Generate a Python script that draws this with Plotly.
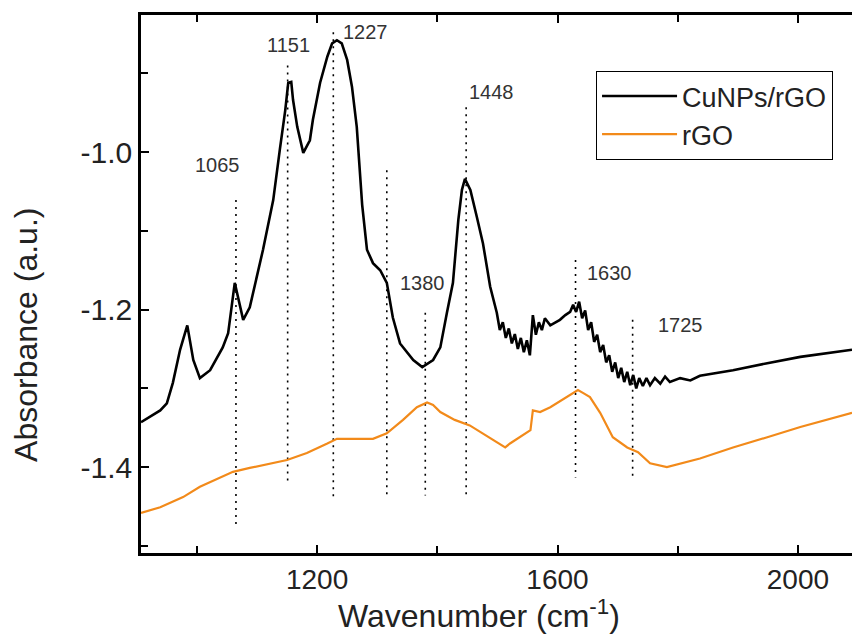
import plotly.graph_objects as go

# ---- data ----
cu_x = [907, 939, 950, 960, 972, 984, 994, 1005, 1022, 1043, 1052, 1063, 1077, 1088, 1110, 1127, 1138, 1147, 1152,
        1157, 1160, 1167, 1177, 1188, 1193, 1205, 1217, 1225, 1233, 1241, 1250, 1258, 1266, 1275, 1283, 1293, 1305,
        1316, 1326, 1338, 1360, 1375, 1393,
        1405, 1416, 1426, 1435, 1441, 1446, 1450, 1455, 1466, 1476, 1488, 1499, 1504, 1509, 1514, 1519, 1524, 1529, 1534,
        1539, 1544, 1549, 1554, 1559, 1564, 1569, 1574, 1579, 1588, 1596, 1604, 1613, 1621, 1626, 1631, 1636, 1641,
        1646, 1651, 1656, 1661, 1666, 1671, 1676, 1681, 1686, 1691, 1696, 1701, 1706, 1711, 1716, 1721, 1726, 1731,
        1736, 1742, 1748, 1754, 1762, 1771, 1779, 1787, 1804, 1821, 1837, 1854, 1892, 1949, 2004, 2090]
cu_y = [-1.343, -1.328, -1.319, -1.293, -1.251, -1.220, -1.264, -1.287, -1.277, -1.248, -1.230, -1.166, -1.213,
        -1.197, -1.124, -1.061, -0.997, -0.947, -0.912, -0.911, -0.934, -0.968, -1.001, -0.985, -0.959, -0.912,
        -0.879, -0.862, -0.858, -0.862, -0.883, -0.917, -0.968, -1.067, -1.124, -1.141, -1.150,
        -1.166, -1.210, -1.243, -1.264, -1.273, -1.264,
        -1.248, -1.204, -1.166, -1.086, -1.048, -1.034, -1.040, -1.048, -1.083, -1.116, -1.171, -1.204, -1.226,
        -1.216, -1.236, -1.224,
        -1.243, -1.231, -1.250, -1.236, -1.254, -1.239, -1.258, -1.207, -1.232, -1.216, -1.226, -1.211, -1.220,
        -1.216, -1.213, -1.207, -1.203, -1.194, -1.203, -1.190, -1.211, -1.201, -1.226, -1.216, -1.241, -1.232,
        -1.254, -1.245, -1.267, -1.258, -1.279, -1.267, -1.287, -1.274, -1.292, -1.279, -1.296, -1.283, -1.300,
        -1.287, -1.297, -1.287, -1.296, -1.287, -1.294, -1.285, -1.292, -1.287, -1.290, -1.284, -1.282, -1.277,
        -1.268, -1.260, -1.251]

rgo_x = [907, 939, 977, 1005, 1060, 1088, 1150, 1183, 1217, 1233, 1293, 1316, 1343, 1366, 1383, 1393, 1405, 1429,
         1454, 1479, 1504, 1513, 1521, 1538, 1555, 1559, 1571, 1588, 1616, 1634, 1643, 1654, 1671, 1692, 1716, 1734,
         1754, 1782, 1837, 1892, 1949, 2004, 2090]
rgo_y = [-1.458, -1.451, -1.438, -1.425, -1.406, -1.401, -1.391, -1.382, -1.370, -1.364, -1.364, -1.357, -1.340,
         -1.324, -1.318, -1.321, -1.330, -1.340, -1.347, -1.359, -1.370, -1.375, -1.370, -1.362, -1.353, -1.328,
         -1.330, -1.324, -1.311, -1.302, -1.306, -1.311, -1.331, -1.362, -1.375, -1.381, -1.395, -1.400, -1.389,
         -1.375, -1.362, -1.349, -1.331]

# dotted marker lines: wavenumber, top, bottom
mark_x = [1065, 1151, 1227, 1316, 1380, 1448, 1630, 1725]
mark_top = [-1.061, -0.890, -0.848, -1.023, -1.204, -0.943, -1.137, -1.213]
mark_bot = [-1.476, -1.420, -1.442, -1.439, -1.436, -1.436, -1.413, -1.413]

# peak labels
lab_text = ["1065", "1151", "1227", "1448", "1380", "1630", "1725"]
lab_x = [1035, 1153, 1281, 1491, 1375, 1687, 1804]
lab_y = [-1.017, -0.864, -0.848, -0.924, -1.166, -1.154, -1.220]

x_ticks = [1200, 1600, 2000]
y_ticks = [-1.4, -1.2, -1.0]

FONT = "Arial, Liberation Sans, sans-serif"
TXT = "#222222"

fig = go.Figure()

for xv, t, b in zip(mark_x, mark_top, mark_bot):
    fig.add_trace(go.Scatter(x=[xv, xv], y=[t, b], mode="lines", showlegend=False, hoverinfo="skip",
                             line=dict(color="black", width=1.6, dash="2px,5px")))

fig.add_trace(go.Scatter(x=cu_x, y=cu_y, mode="lines", name="CuNPs/rGO",
                         line=dict(color="black", width=2.6)))
fig.add_trace(go.Scatter(x=rgo_x, y=rgo_y, mode="lines", name="rGO",
                         line=dict(color="#F28A1A", width=2.2)))

for t, xv, yv in zip(lab_text, lab_x, lab_y):
    fig.add_annotation(x=xv, y=yv, text=t, showarrow=False, xanchor="center", yanchor="middle",
                       font=dict(family=FONT, size=20, color="#333333"))

# axis titles
fig.add_annotation(xref="paper", yref="paper", x=0.475, y=-0.114, text="Wavenumber (cm<sup>-1</sup>)",
                   showarrow=False, xanchor="center", yanchor="middle",
                   font=dict(family=FONT, size=32, color=TXT))
fig.add_annotation(xref="paper", yref="paper", x=-0.162, y=0.405, text="Absorbance (a.u.)", textangle=-90,
                   showarrow=False, xanchor="center", yanchor="middle",
                   font=dict(family=FONT, size=32, color=TXT))

fig.update_layout(
    width=852, height=641,
    margin=dict(l=141, r=0, t=15, b=88),
    plot_bgcolor="white", paper_bgcolor="white",
    font=dict(family=FONT, color=TXT),
    legend=dict(x=0.64, y=0.896, xanchor="left", yanchor="top",
                bordercolor="black", borderwidth=1, bgcolor="white",
                font=dict(family=FONT, size=27, color=TXT),
                itemwidth=75, tracegroupgap=0),
)

fig.update_xaxes(
    range=[907, 2090], tickvals=x_ticks, ticks="inside", ticklen=8, tickwidth=2, tickcolor="black",
    showline=True, linewidth=2.5, linecolor="black", mirror="ticks", showgrid=False, zeroline=False,
    minor=dict(dtick=200, tick0=1200, ticks="inside", ticklen=7, tickwidth=2, tickcolor="black"),
    tickfont=dict(family=FONT, size=28, color=TXT),
)
fig.update_yaxes(
    range=[-1.509, -0.826], tickvals=y_ticks, ticktext=["-1.4", "-1.2", "-1.0"],
    ticks="inside", ticklen=8, tickwidth=2, tickcolor="black",
    showline=True, linewidth=2.5, linecolor="black", mirror=False, showgrid=False, zeroline=False,
    minor=dict(dtick=0.1, tick0=-1.0, ticks="inside", ticklen=7, tickwidth=2, tickcolor="black"),
    tickfont=dict(family=FONT, size=30, color=TXT),
)

fig.write_html("out.html")
